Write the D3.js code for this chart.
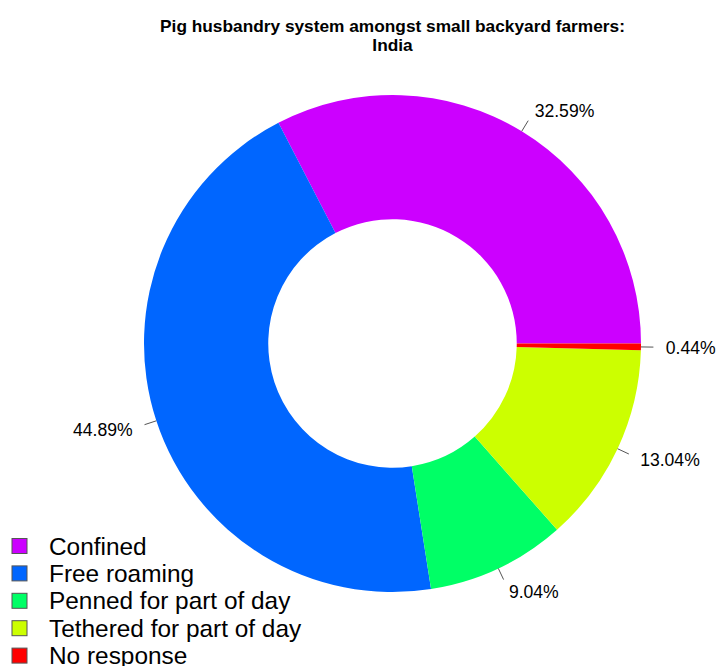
<!DOCTYPE html>
<html>
<head>
<meta charset="utf-8">
<script src="https://cdn.jsdelivr.net/npm/d3@7"></script>
<style>
	body { margin: 0; background: #fff; }
	text { font-family: "Liberation Sans", Arial, sans-serif; fill: #000; }
</style>
</head>
<body>
<script>
(function () {
	"use strict";

	var w = 719;
	var h = 666;

	var categories = ["Confined", "Free roaming", "Penned for part of day", "Tethered for part of day", "No response"];
	var shares = [32.59, 44.89, 9.04, 13.04, 0.44];
	var colours = ["#CC00FF", "#0066FF", "#00FF66", "#CCFF00", "#FF0000"];
	var pctLabels = ["32.59%", "44.89%", "9.04%", "13.04%", "0.44%"];

	var cx = 392.5, cy = 343.5, r = 248.5;

	var svg = d3.select("body")
		.append("svg")
		.attr("width", w)
		.attr("height", h);

	// title
	var title = svg.append("text")
		.attr("text-anchor", "middle")
		.attr("font-weight", "bold")
		.attr("font-size", "17.3px");
	title.append("tspan").attr("x", cx).attr("y", 32).text("Pig husbandry system amongst small backyard farmers:");
	title.append("tspan").attr("x", cx).attr("y", 51).text("India");

	// R-style pie: start at 3 o'clock, go counterclockwise
	var pie = d3.pie()
		.sort(null)
		.value((d) => d)
		.startAngle(Math.PI / 2)
		.endAngle(Math.PI / 2 - 2 * Math.PI);

	var arcs = pie(shares);

	var arc = d3.arc()
		.innerRadius(r * 0.5)
		.outerRadius(r);

	var g = svg.append("g")
		.attr("transform", "translate(" + cx + "," + cy + ")");

	g.selectAll("path.slice")
		.data(arcs)
		.enter()
		.append("path")
		.attr("class", "slice")
		.attr("d", arc)
		.attr("fill", (d, i) => colours[i]);

	function pt(a, rr) {
		return [Math.sin(a) * rr, -Math.cos(a) * rr];
	}

	arcs.forEach(function (d, i) {
		var mid = (d.startAngle + d.endAngle) / 2;
		var p1 = pt(mid, r), p2 = pt(mid, r * 1.05), p3 = pt(mid, r * 1.1);
		g.append("line")
			.attr("x1", p1[0]).attr("y1", p1[1])
			.attr("x2", p2[0]).attr("y2", p2[1])
			.attr("stroke", "#555")
			.attr("stroke-width", 1);
		g.append("text")
			.attr("x", p3[0])
			.attr("y", p3[1])
			.attr("dy", "0.4em")
			.attr("text-anchor", p3[0] > 0 ? "start" : "end")
			.attr("font-size", "17.6px")
			.text(pctLabels[i]);
	});

	// legend
	var legend = svg.append("g")
		.attr("transform", "translate(12,546)");

	var rows = legend.selectAll("g")
		.data(categories)
		.enter()
		.append("g")
		.attr("transform", (d, i) => "translate(0," + (i * 27.4) + ")");

	rows.append("rect")
		.attr("x", 0)
		.attr("y", -7.5)
		.attr("width", 15)
		.attr("height", 15)
		.attr("fill", (d, i) => colours[i])
		.attr("stroke", "#555")
		.attr("stroke-width", 1);

	rows.append("text")
		.attr("x", 37)
		.attr("y", 0)
		.attr("dy", "0.35em")
		.attr("font-size", "24.4px")
		.text((d) => d);
})();
</script>
</body>
</html>
